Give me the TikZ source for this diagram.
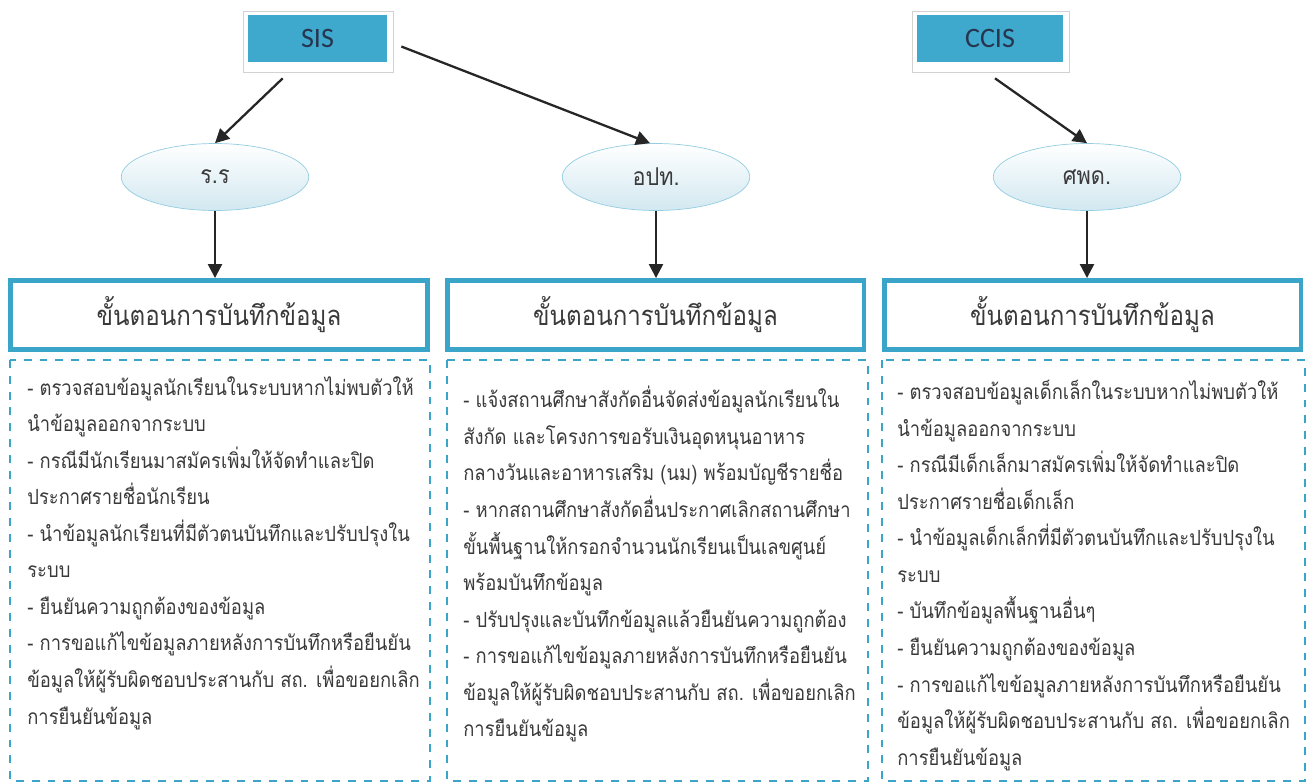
\documentclass[tikz,border=0pt]{standalone}
\usepackage{fontspec}
\setmainfont{Carlito}
\newfontfamily\thaifont[Script=Thai, FakeStretch=0.88]{Loma}
\usetikzlibrary{calc,arrows.meta,shapes.geometric}
\definecolor{sisblue}{HTML}{3EA8CD}
\definecolor{frame}{HTML}{3AA5C8}
\definecolor{ellfill}{HTML}{D2E8F0}
\definecolor{ink}{HTML}{3A3A3A}
\definecolor{navy}{HTML}{27354F}

\begin{document}
\begin{tikzpicture}[x=0.02cm, y=-0.02cm,
  every node/.style={text=ink},
  sysbox/.style={fill=sisblue, minimum height=0.94cm, font=\fontsize{16}{18}\selectfont, text=navy},
  unit/.style={ellipse, draw=frame!55, top color=white, bottom color=ellfill, minimum width=3.75cm, minimum height=1.34cm, font=\thaifont\fontsize{14}{16}\selectfont},
  header/.style={draw=frame, line width=2.8pt, fill=white, minimum width=8.34cm, minimum height=1.38cm, font=\thaifont\fontsize{15.6}{18}\selectfont},
  stepsbox/.style={draw=frame, line width=0.9pt, dash pattern=on 4.5pt off 4.5pt},
  stepstext/.style={anchor=north west, align=left, inner sep=0pt, font=\thaifont\fontsize{11.9}{20.8}\selectfont},
  link/.style={-{Triangle[length=8pt,width=8pt]}, line width=1.3pt, black!85}]
  \useasboundingbox (0,0) rectangle (1310,782);

  % source systems
  \node[sysbox, minimum width=2.78cm] (sis) at (317.5,38.5) {SIS};
  \node[sysbox, minimum width=2.92cm] (ccis) at (990,38.5) {CCIS};
  \foreach \s in {sis,ccis}{
    \draw[gray!35] ($(\s.north west)+(-4,-3)$) rectangle ($(\s.south east)+(6,10)$);
  }

  % units
  \node[unit] (rr) at (215,177) {ร.ร};
  \node[unit] (opt) at (656,177) {อปท.};
  \node[unit] (spd) at (1087,177) {ศพด.};

  % headers and dashed boxes
  \foreach \n/\x in {A/219,B/655.5,C/1092.5}{
    \node[header] (hd\n) at (\x,315) {ขั้นตอนการบันทึกข้อมูล};
  }
  \foreach \l/\r in {10/430,447/868,882/1305}{
    \draw[stepsbox] (\l,360) rectangle (\r,781);
  }

  \draw[link] ($(sis.south west)+(35,16)$) -- (rr.north);
  \draw[link] ($(sis.east)+(14,8)$) -- (opt.100);
  \draw[link] ($(ccis.south)+(5,16)$) -- (spd.north);
  \draw[link] (rr.south) -- (rr.south |- hdA.north);
  \draw[link] (opt.south) -- (opt.south |- hdB.north);
  \draw[link] (spd.south) -- (spd.south |- hdC.north);

  % steps
  \node[stepstext] (txA) at (27,376) {- ตรวจสอบข้อมูลนักเรียนในระบบหากไม่พบตัวให้\\
    นำข้อมูลออกจากระบบ\\
    - กรณีมีนักเรียนมาสมัครเพิ่มให้จัดทำและปิด\\
    ประกาศรายชื่อนักเรียน\\
    - นำข้อมูลนักเรียนที่มีตัวตนบันทึกและปรับปรุงใน\\
    ระบบ\\
    - ยืนยันความถูกต้องของข้อมูล\\
    - การขอแก้ไขข้อมูลภายหลังการบันทึกหรือยืนยัน\\
    ข้อมูลให้ผู้รับผิดชอบประสานกับ สถ. เพื่อขอยกเลิก\\
    การยืนยันข้อมูล};
  \node[stepstext] (txB) at (463,386) {- แจ้งสถานศึกษาสังกัดอื่นจัดส่งข้อมูลนักเรียนใน\\
    สังกัด และโครงการขอรับเงินอุดหนุนอาหาร\\
    กลางวันและอาหารเสริม (นม) พร้อมบัญชีรายชื่อ\\
    - หากสถานศึกษาสังกัดอื่นประกาศเลิกสถานศึกษา\\
    ขั้นพื้นฐานให้กรอกจำนวนนักเรียนเป็นเลขศูนย์\\
    พร้อมบันทึกข้อมูล\\
    - ปรับปรุงและบันทึกข้อมูลแล้วยืนยันความถูกต้อง\\
    - การขอแก้ไขข้อมูลภายหลังการบันทึกหรือยืนยัน\\
    ข้อมูลให้ผู้รับผิดชอบประสานกับ สถ. เพื่อขอยกเลิก\\
    การยืนยันข้อมูล};
  \node[stepstext] (txC) at (897,380) {- ตรวจสอบข้อมูลเด็กเล็กในระบบหากไม่พบตัวให้\\
    นำข้อมูลออกจากระบบ\\
    - กรณีมีเด็กเล็กมาสมัครเพิ่มให้จัดทำและปิด\\
    ประกาศรายชื่อเด็กเล็ก\\
    - นำข้อมูลเด็กเล็กที่มีตัวตนบันทึกและปรับปรุงใน\\
    ระบบ\\
    - บันทึกข้อมูลพื้นฐานอื่นๆ\\
    - ยืนยันความถูกต้องของข้อมูล\\
    - การขอแก้ไขข้อมูลภายหลังการบันทึกหรือยืนยัน\\
    ข้อมูลให้ผู้รับผิดชอบประสานกับ สถ. เพื่อขอยกเลิก\\
    การยืนยันข้อมูล};
\end{tikzpicture}
\end{document}
